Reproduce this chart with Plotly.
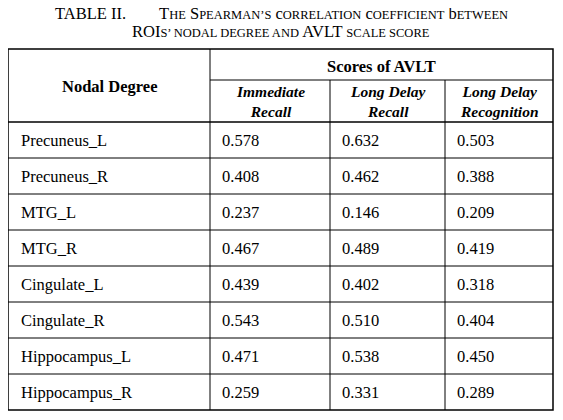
import plotly.graph_objects as go

rois = ["Precuneus_L", "Precuneus_R", "MTG_L", "MTG_R", "Cingulate_L", "Cingulate_R", "Hippocampus_L", "Hippocampus_R"]
immediate = ["0.578", "0.408", "0.237", "0.467", "0.439", "0.543", "0.471", "0.259"]
long_recall = ["0.632", "0.462", "0.146", "0.489", "0.402", "0.510", "0.538", "0.331"]
long_recog = ["0.503", "0.388", "0.209", "0.419", "0.318", "0.404", "0.450", "0.289"]
subheads = ["Immediate<br>Recall", "Long Delay<br>Recall", "Long Delay<br>Recognition"]

W, H = 563, 420
OFF = 8  # page body margin compensation
F = "Liberation Serif, Times New Roman, serif"
xl, xr = 8, 553
cols = [210, 330, 445]
ytop, ymid, yhead, ybot = 49, 80, 122, 410
rowh = (ybot - yhead) / len(rois)

fig = go.Figure()
shapes = []
def line(x0, y0, x1, y1, w=1):
    shapes.append(dict(type="line", x0=x0, y0=y0, x1=x1, y1=y1, xref="x", yref="y",
                       line=dict(color="black", width=w)))
shapes.append(dict(type="rect", x0=xl, y0=ytop, x1=xr, y1=ybot, xref="x", yref="y",
                   line=dict(color="black", width=1.5)))
line(xl, yhead, xr, yhead, 1.5)
line(cols[0], ymid, xr, ymid)
line(cols[0], ytop, cols[0], ybot)
for c in cols[1:]:
    line(c, ymid, c, ybot)
for i in range(1, len(rois)):
    line(xl, yhead + i * rowh, xr, yhead + i * rowh)

ann = []
def txt(x, y, s, size=16.5, xa="left"):
    ann.append(dict(x=x, y=y, text=s, xref="x", yref="y", showarrow=False, xanchor=xa,
                    yanchor="middle", font=dict(family=F, size=size, color="black")))

def sc(word):
    return word[0] + "<span style='font-size:12.5px'>" + word[1:].upper() + "</span>"
title1 = "TABLE II.&nbsp;&nbsp;&nbsp;&nbsp;&nbsp;&nbsp;&nbsp;&nbsp;" + " ".join(
    [sc("The"), sc("Spearman’s"), sc("correlation"), sc("coefficient"), sc("between")])
title2 = "ROI<span style='font-size:12.5px'>S’ NODAL DEGREE AND</span> AVLT <span style='font-size:12.5px'>SCALE SCORE</span>"
txt(281, 13, title1, 16.5, "center")
txt(281, 31, title2, 16.5, "center")

txt((xl + cols[0]) / 2, 86, "<b>Nodal Degree</b>", 16.5, "center")
txt((cols[0] + xr) / 2, 66, "<b>Scores of AVLT</b>", 16.5, "center")
edges = cols + [xr]
for j, s in enumerate(subheads):
    txt((edges[j] + edges[j + 1]) / 2, 101, "<b><i>" + s + "</i></b>", 15.5, "center")

for i, r in enumerate(rois):
    y = yhead + (i + 0.5) * rowh
    txt(19, y, r)
    for j, arr in enumerate([immediate, long_recall, long_recog]):
        txt(edges[j] + 10, y, arr[i])

fig.update_layout(width=W, height=H, margin=dict(l=0, r=0, t=0, b=0),
                  plot_bgcolor="white", paper_bgcolor="white",
                  xaxis=dict(range=[OFF, W + OFF], visible=False, fixedrange=True),
                  yaxis=dict(range=[H + OFF, OFF], visible=False, fixedrange=True),
                  shapes=shapes, annotations=ann, showlegend=False)
fig.write_html("out.html")
